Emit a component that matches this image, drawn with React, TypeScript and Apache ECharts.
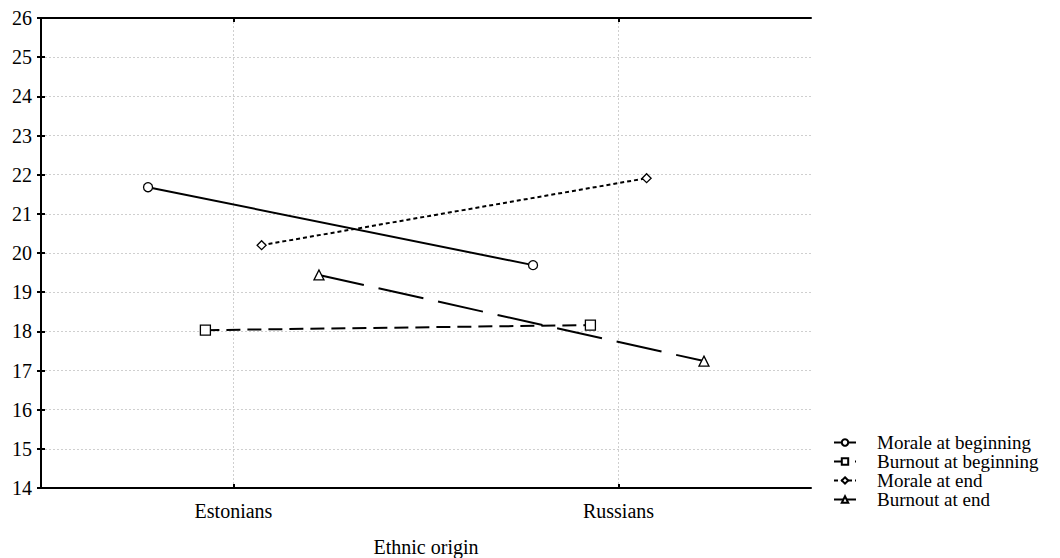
import React, { useEffect, useRef } from "react";
import * as echarts from "echarts";

const categories = ["Estonians", "Russians"];
const yTicks = [14, 15, 16, 17, 18, 19, 20, 21, 22, 23, 24, 25, 26];
const moraleBeginning = [21.68, 19.69];
const burnoutBeginning = [18.03, 18.16];
const moraleEnd = [20.2, 21.91];
const burnoutEnd = [19.44, 17.24];
const seriesNames = ["Morale at beginning", "Burnout at beginning", "Morale at end", "Burnout at end"];

const FONT = "Liberation Serif";
const offsets = [-0.222, -0.073, 0.073, 0.222];
const catPos = categories.map((_, i) => i + 0.5);

function pts(values: number[], k: number) {
  return values.map((v, i) => [catPos[i] + offsets[k], v]);
}

export default function App() {
  const ref = useRef<HTMLDivElement>(null);
  useEffect(() => {
    document.body.style.margin = "0";
    const chart = echarts.init(ref.current!, undefined, { renderer: "svg" });
    const axisLine = { show: true, lineStyle: { color: "#000", width: 2 } };
    const tick = { show: true, inside: true, length: 4, lineStyle: { color: "#000", width: 2 } };
    const grid = { show: true, lineStyle: { color: "#cfcfcf", width: 1, type: [2, 2] } };
    const sym = (symbol: string, size: number) => ({
      symbol,
      symbolSize: size,
      itemStyle: { color: "#fff", borderColor: "#000", borderWidth: 1.3 },
    });
    chart.setOption({
      animation: false,
      backgroundColor: "#fff",
      grid: { left: 41, right: 249, top: 18, bottom: 70, containLabel: false, outerBoundsMode: "none" },
      legend: {
        orient: "vertical",
        left: 828,
        top: 428,
        itemWidth: 22,
        itemHeight: 8,
        itemGap: 0,
        textStyle: {
          fontFamily: FONT,
          fontSize: 19,
          lineHeight: 19,
          color: "#000",
          padding: [0, 0, 0, 16],
        },
        data: seriesNames,
      },
      xAxis: [
        {
          type: "value",
          min: 0,
          max: 2,
          name: "Ethnic origin",
          nameLocation: "middle",
          nameGap: 49,
          nameTextStyle: { fontFamily: FONT, fontSize: 20, color: "#000" },
          axisLine,
          axisTick: { ...tick, customValues: catPos },
          axisLabel: {
            customValues: catPos,
            margin: 13,
            fontFamily: FONT,
            fontSize: 20,
            color: "#000",
            formatter: (v: number) => categories[Math.round(v - 0.5)] ?? "",
          },
          splitLine: grid,
        },
        {
          type: "value",
          min: 0,
          max: 2,
          position: "top",
          axisLine,
          axisTick: { ...tick, customValues: catPos },
          axisLabel: { show: false },
          splitLine: { show: false },
        },
      ],
      yAxis: [
        {
          type: "value",
          min: yTicks[0],
          max: yTicks[yTicks.length - 1],
          interval: 1,
          axisLine,
          axisTick: tick,
          axisLabel: { margin: 9, fontFamily: FONT, fontSize: 20, color: "#000" },
          splitLine: grid,
        },
        {
          type: "value",
          min: yTicks[0],
          max: yTicks[yTicks.length - 1],
          interval: 1,
          position: "right",
          axisLine,
          axisTick: tick,
          axisLabel: { show: false },
          splitLine: { show: false },
        },
      ],
      series: [
        {
          name: seriesNames[0],
          type: "line",
          data: pts(moraleBeginning, 0),
          lineStyle: { color: "#000", width: 2, type: "solid" },
          ...sym("circle", 9),
        },
        {
          name: seriesNames[1],
          type: "line",
          data: pts(burnoutBeginning, 1),
          lineStyle: { color: "#000", width: 2, type: [14, 7] },
          ...sym("rect", 10),
        },
        {
          name: seriesNames[2],
          type: "line",
          data: pts(moraleEnd, 2),
          lineStyle: { color: "#000", width: 2, type: [4, 3] },
          ...sym("diamond", 9),
        },
        {
          name: seriesNames[3],
          type: "line",
          data: pts(burnoutEnd, 3),
          lineStyle: { color: "#000", width: 2, type: [46, 15] },
          ...sym("triangle", 10),
        },
      ],
    });
    return () => chart.dispose();
  }, []);
  return <div ref={ref} style={{ width: 1060, height: 558 }} />;
}
